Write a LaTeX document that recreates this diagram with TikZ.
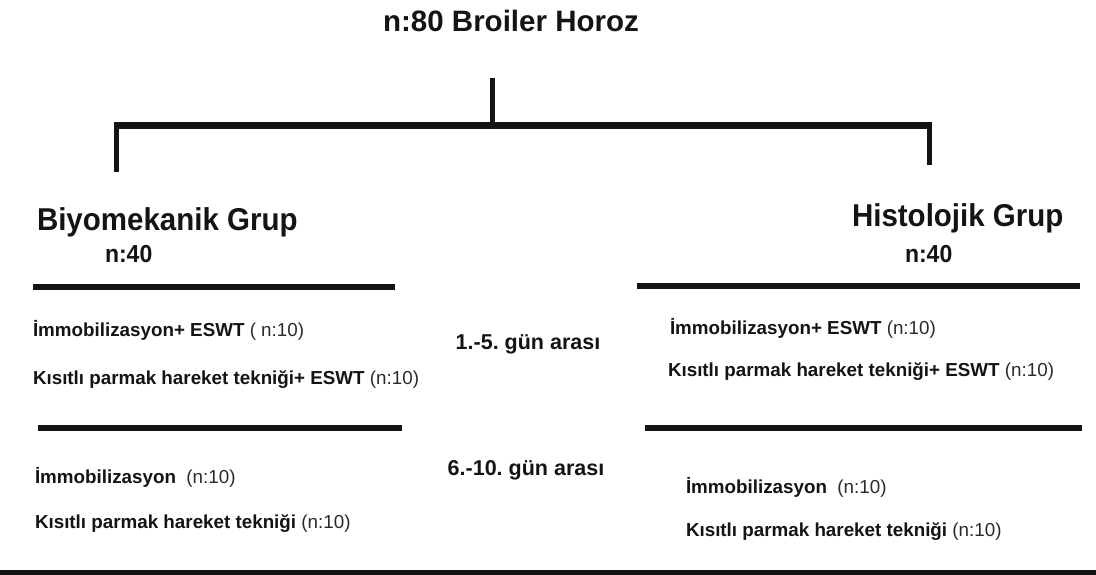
\documentclass[tikz,border=0pt]{standalone}
\usepackage{fontspec}
\setmainfont{Liberation Sans}
\frenchspacing
\definecolor{ink}{HTML}{141414}
\definecolor{soft}{HTML}{2A2A2A}
\begin{document}
\begin{tikzpicture}[x=1pt,y=-1pt,
  every node/.style={inner sep=0pt,outer sep=0pt,text=ink},
  titletext/.style={font=\fontsize{29.5}{31}\selectfont\bfseries},
  headtext/.style={font=\fontsize{29.5}{32}\selectfont\bfseries,yscale=1.07,transform shape},
  counttext/.style={font=\fontsize{23}{25}\selectfont\bfseries,yscale=1.07,transform shape},
  rowtext/.style={font=\fontsize{18.8}{21}\selectfont\bfseries,anchor=west},
  daytext/.style={font=\fontsize{21.5}{24}\selectfont\bfseries},
  bracketh/.style={line width=7pt,draw=ink},
  bracketv/.style={line width=5pt,draw=ink},
  sepline/.style={line width=6pt,draw=ink}]
\useasboundingbox[fill=white] (0,0) rectangle (1096,575);
\newcommand{\nten}[1]{{\mdseries\color{soft}#1}}

% title and bracket
\node[titletext] (title) at (511,21) {n:80 Broiler Horoz};
\coordinate (ticktop) at (492,78);
\coordinate (junction) at (492,126);
\coordinate (lcorner) at (114,126);
\coordinate (rcorner) at (932,126);
\coordinate (ldrop) at (116.5,172);
\coordinate (rdrop) at (929.5,165);
\draw[bracketv] (ticktop) -- (junction);
\draw[bracketh] (lcorner) -- (rcorner);
\draw[bracketv] (ldrop |- lcorner) -- (ldrop);
\draw[bracketv] (rdrop |- rcorner) -- (rdrop);

% group headers
\node[headtext,anchor=west] (bio) at (37,222) {Biyomekanik Grup};
\node[counttext,anchor=west] (bion) at (105,254) {n:40};
\node[headtext,anchor=west] (his) at (852,218) {Histolojik Grup};
\node[counttext,anchor=west] (hisn) at (905,254) {n:40};

% separator lines
\draw[sepline] (33,287) -- (395,287);
\draw[sepline] (637,286) -- (1080,286);
\draw[sepline] (38,428) -- (402,428);
\draw[sepline] (645,428) -- (1082,428);
\draw[line width=5pt,draw=ink] (0,572.5) -- (1096,572.5);

% rows 1-5
\node[rowtext] (l1) at (33,330) {İmmobilizasyon+ ESWT \nten{( n:10)}};
\node[rowtext] (l2) at (33,380) {Kısıtlı parmak hareket tekniği+ ESWT \nten{(n:10)}};
\node[rowtext] (r1) at (670,328) {İmmobilizasyon+ ESWT \nten{(n:10)}};
\node[rowtext] (r2) at (668,372) {Kısıtlı parmak hareket tekniği+ ESWT \nten{(n:10)}};
\node[daytext] (d1) at (528,344) {1.-5. gün arası};

% rows 6-10
\node[rowtext] (l3) at (35,477) {İmmobilizasyon\ \ \nten{(n:10)}};
\node[rowtext] (l4) at (35,524) {Kısıtlı parmak hareket tekniği \nten{(n:10)}};
\node[rowtext] (r3) at (686,487) {İmmobilizasyon\ \ \nten{(n:10)}};
\node[rowtext] (r4) at (686,532) {Kısıtlı parmak hareket tekniği \nten{(n:10)}};
\node[daytext] (d2) at (526,470) {6.-10. gün arası};
\end{tikzpicture}
\end{document}
